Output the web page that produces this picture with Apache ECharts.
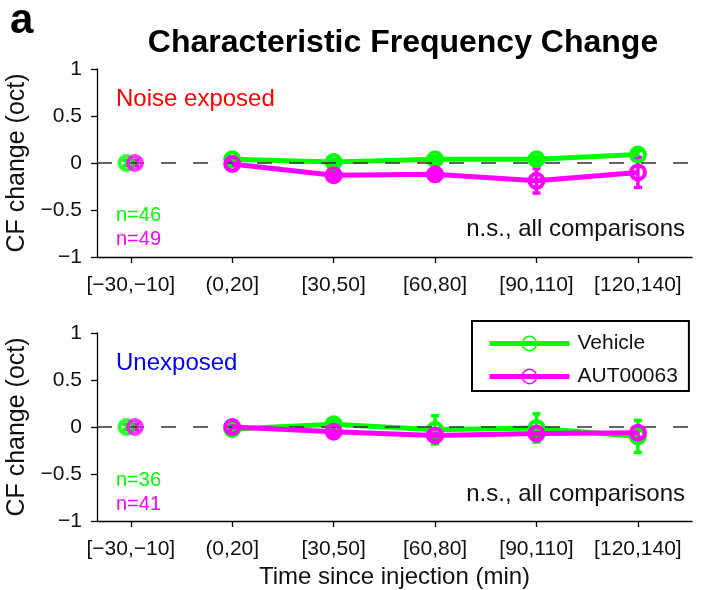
<!DOCTYPE html>
<html>
<head>
<meta charset="utf-8">
<script src="https://cdn.jsdelivr.net/npm/echarts@6/dist/echarts.min.js"></script>
<style>
  html, body { margin: 0; padding: 0; background: #ffffff; }
  #chart { width: 703px; height: 590px; }
</style>
</head>
<body>
<div id="chart"></div>
<script>
// Time bins (minutes since injection, bin centres) and their tick labels
const binCentres = [-20, 10, 40, 70, 100, 130];
const binLabels = ['[\u221230,\u221210]', '(0,20]', '[30,50]', '[60,80]', '[90,110]', '[120,140]'];

// Noise exposed: mean CF change (oct) and error half-widths
const noiseVehicle = [0.00, 0.04, 0.01, 0.04, 0.04, 0.09];
const noiseVehicleErr = [0.03, 0.03, 0.03, 0.03, 0.03, 0.04];
const noiseAUT = [0.00, -0.01, -0.13, -0.12, -0.19, -0.10];
const noiseAUTErr = [0.03, 0.03, 0.04, 0.04, 0.13, 0.16];

// Unexposed
const unexpVehicle = [0.00, -0.02, 0.03, -0.03, -0.01, -0.10];
const unexpVehicleErr = [0.03, 0.03, 0.04, 0.15, 0.15, 0.17];
const unexpAUT = [0.00, 0.00, -0.05, -0.09, -0.07, -0.06];
const unexpAUTErr = [0.03, 0.03, 0.04, 0.04, 0.04, 0.05];

const GREEN = '#00ff00';
const MAGENTA = '#ff00ff';
const FONT = 'Liberation Sans, Arial, Helvetica, sans-serif';
const CLEAR = 'rgba(255,255,255,0)';

// baseline points are nudged sideways so both groups stay visible
const baselineShift = { vehicle: -1.3, aut: 1.2 };

const chart = echarts.init(document.getElementById('chart'), null, { renderer: 'canvas' });

function xAxisFor(gridIndex) {
  return {
    type: 'value', gridIndex, min: -30, max: 146,
    axisLine: { show: true, onZero: false, lineStyle: { color: '#000', width: 1.3 } },
    axisTick: { show: true, length: 6, inside: false, lineStyle: { color: '#000', width: 1.3 }, customValues: binCentres },
    axisLabel: {
      show: true, customValues: binCentres, margin: 18,
      color: '#111', fontSize: 21, fontFamily: FONT,
      formatter: v => binLabels[binCentres.indexOf(v)] || ''
    },
    splitLine: { show: false }
  };
}
function yAxisFor(gridIndex) {
  return {
    type: 'value', gridIndex, min: -1, max: 1, interval: 0.5,
    name: 'CF change (oct)', nameLocation: 'middle', nameGap: 58, nameRotate: 90,
    nameTextStyle: { color: '#111', fontSize: 25, fontFamily: FONT },
    axisLine: { show: true, onZero: false, lineStyle: { color: '#000', width: 1.3 } },
    axisTick: { show: true, length: 6, inside: false, lineStyle: { color: '#000', width: 1.3 } },
    axisLabel: {
      color: '#111', fontSize: 21, fontFamily: FONT, margin: 15,
      formatter: v => (v < 0 ? '\u2212' + Math.abs(v) : String(v))
    },
    splitLine: { show: false }
  };
}

function errorBars(name, gi, xs, ys, errs, color, shift) {
  const data = xs.map((x, i) => [i === 0 ? x + shift : x, ys[i] - errs[i], ys[i] + errs[i]]);
  return {
    name, type: 'custom', xAxisIndex: gi, yAxisIndex: gi, z: 3, silent: true,
    renderItem: (params, api) => {
      const lo = api.coord([api.value(0), api.value(1)]);
      const hi = api.coord([api.value(0), api.value(2)]);
      const cap = 4;
      const style = { stroke: color, lineWidth: 3.5 };
      return {
        type: 'group', children: [
          { type: 'line', shape: { x1: lo[0], y1: lo[1], x2: hi[0], y2: hi[1] }, style },
          { type: 'line', shape: { x1: lo[0] - cap, y1: lo[1], x2: lo[0] + cap, y2: lo[1] }, style },
          { type: 'line', shape: { x1: hi[0] - cap, y1: hi[1], x2: hi[0] + cap, y2: hi[1] }, style }
        ]
      };
    },
    encode: { x: 0, y: [1, 2] },
    data
  };
}

function lineSeries(name, gi, xs, ys, color, z) {
  return {
    name, type: 'line', xAxisIndex: gi, yAxisIndex: gi, z,
    data: xs.slice(1).map((x, i) => [x, ys[i + 1]]),
    symbol: 'circle', symbolSize: 14, showSymbol: true,
    color,
    lineStyle: { color, width: 5 },
    itemStyle: { color: CLEAR, borderColor: color, borderWidth: 4 },
    emphasis: { disabled: true }
  };
}

function baselinePoint(name, gi, x, y, color, z) {
  return {
    name, type: 'scatter', xAxisIndex: gi, yAxisIndex: gi, z,
    data: [[x, y]],
    symbol: 'circle', symbolSize: 14,
    itemStyle: { color: CLEAR, borderColor: color, borderWidth: 4 },
    emphasis: { disabled: true }
  };
}

function zeroLine(gi) {
  return {
    name: 'zero', type: 'line', xAxisIndex: gi, yAxisIndex: gi, data: [], z: 1,
    markLine: {
      silent: true, symbol: 'none', label: { show: false },
      lineStyle: { color: '#333', type: [15, 17], width: 1.5 },
      data: [{ yAxis: 0 }]
    }
  };
}

function panelSeries(gi, veh, vehErr, aut, autErr) {
  return [
    lineSeries('Vehicle', gi, binCentres, veh, GREEN, 4),
    lineSeries('AUT00063', gi, binCentres, aut, MAGENTA, 6),
    zeroLine(gi),
    errorBars('Vehicle error', gi, binCentres, veh, vehErr, GREEN, baselineShift.vehicle),
    baselinePoint('Vehicle baseline', gi, binCentres[0] + baselineShift.vehicle, veh[0], GREEN, 4),
    errorBars('AUT00063 error', gi, binCentres, aut, autErr, MAGENTA, baselineShift.aut),
    baselinePoint('AUT00063 baseline', gi, binCentres[0] + baselineShift.aut, aut[0], MAGENTA, 6)
  ];
}

const option = {
  backgroundColor: '#ffffff',
  animation: false,
  title: {
    text: 'Characteristic Frequency Change',
    left: 398, top: 22, textAlign: 'center',
    textStyle: { fontSize: 32, fontWeight: 'bold', color: '#000', fontFamily: FONT }
  },
  grid: [
    { left: 97, top: 69, width: 595, height: 188, outerBoundsMode: 'none', containLabel: false },
    { left: 97, top: 333, width: 595, height: 188, outerBoundsMode: 'none', containLabel: false }
  ],
  xAxis: [xAxisFor(0), Object.assign(xAxisFor(1), {
    name: 'Time since injection (min)', nameLocation: 'middle', nameGap: 44,
    nameTextStyle: { color: '#111', fontSize: 24, fontFamily: FONT }
  })],
  yAxis: [yAxisFor(0), yAxisFor(1)],
  legend: {
    orient: 'vertical', left: 472, top: 321,
    padding: [12, 11, 4, 15],
    itemGap: 12, itemWidth: 80, itemHeight: 18,
    borderColor: '#000', borderWidth: 2,
    lineStyle: { width: 5 },
    itemStyle: { borderWidth: 1.5 },
    textStyle: { fontSize: 21, color: '#111', fontFamily: FONT, padding: [0, 0, 0, 3] },
    data: ['Vehicle', 'AUT00063'],
    selectedMode: false
  },
  graphic: [
    { type: 'text', left: 10, top: 0, style: { text: 'a', font: 'bold 42px ' + FONT, fill: '#000' } },
    { type: 'text', left: 116, top: 87, style: { text: 'Noise exposed', font: '24px ' + FONT, fill: '#ff0000' } },
    { type: 'text', left: 116, top: 351, style: { text: 'Unexposed', font: '24px ' + FONT, fill: '#0000ff' } },
    { type: 'text', left: 116, top: 205, style: { text: 'n=46', font: '20px ' + FONT, fill: GREEN } },
    { type: 'text', left: 116, top: 229, style: { text: 'n=49', font: '20px ' + FONT, fill: MAGENTA } },
    { type: 'text', left: 116, top: 470, style: { text: 'n=36', font: '20px ' + FONT, fill: GREEN } },
    { type: 'text', left: 116, top: 494, style: { text: 'n=41', font: '20px ' + FONT, fill: MAGENTA } },
    { type: 'text', right: 18, top: 217, style: { text: 'n.s., all comparisons', font: '24px ' + FONT, fill: '#111' } },
    { type: 'text', right: 18, top: 482, style: { text: 'n.s., all comparisons', font: '24px ' + FONT, fill: '#111' } }
  ],
  series: [
    ...panelSeries(0, noiseVehicle, noiseVehicleErr, noiseAUT, noiseAUTErr),
    ...panelSeries(1, unexpVehicle, unexpVehicleErr, unexpAUT, unexpAUTErr)
  ]
};

chart.setOption(option);
</script>
</body>
</html>
